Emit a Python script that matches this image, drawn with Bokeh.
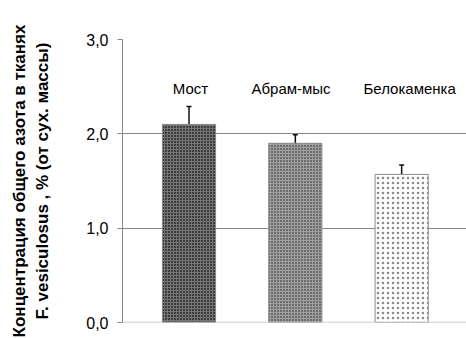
from bokeh.plotting import figure
from bokeh.models import Range1d, Whisker, TeeHead, ColumnDataSource, FixedTicker, Span
from bokeh.core.properties import value
from bokeh.embed import file_html
from bokeh.resources import INLINE

# ---- data ----
categories = ["Мост", "Абрам-мыс", "Белокаменка"]
values = [2.10, 1.90, 1.57]
errors = [0.19, 0.09, 0.10]
y_ticks = [0, 1, 2, 3]
y_tick_labels = ["0,0", "1,0", "2,0", "3,0"]
y_title = "Концентрация общего азота в тканях\nF. vesiculosus , % (от сух. массы)"

# ---- styles ----
fill_colors = ["#3c3c3c", "#a0a0a0", "#ffffff"]
hatch_patterns = ["cross", "dot", "dot"]
hatch_colors = ["#767676", "#1e1e1e", "#8a8a8a"]
hatch_scales = [3, 3, 5]
label_dx = [1.5, -4.3, 8]
label_y = 2.48
FONT = "Liberation Sans"

xs = list(range(len(categories)))
src = ColumnDataSource(dict(
    x=xs, top=values,
    upper=[v + e for v, e in zip(values, errors)],
    lower=[v - e for v, e in zip(values, errors)],
    fill=fill_colors, hp=hatch_patterns, hc=hatch_colors, hs=hatch_scales,
    label=categories, dx=label_dx, ly=[label_y] * len(categories),
))

p = figure(width=466, height=338, output_backend="svg", toolbar_location=None,
           x_range=Range1d(-0.6256, 2.610), y_range=Range1d(0, 3),
           min_border_left=122, min_border_top=39, min_border_bottom=16,
           min_border_right=0)
p.outline_line_color = None
p.background_fill_color = "white"
p.border_fill_color = "white"

p.xaxis.visible = False
p.xgrid.visible = False
p.ygrid.ticker = FixedTicker(ticks=y_ticks[1:])
p.ygrid.grid_line_color = "#868686"
p.ygrid.grid_line_width = 1

ax = p.yaxis[0]
ax.ticker = FixedTicker(ticks=y_ticks)
ax.major_label_overrides = {t: l for t, l in zip(y_ticks, y_tick_labels)}
ax.axis_line_color = "#868686"
ax.major_tick_line_color = "#868686"
ax.major_tick_out = 5
ax.major_tick_in = 0
ax.minor_tick_line_color = None
ax.major_label_text_font = FONT
ax.major_label_text_font_size = "16px"
ax.major_label_text_color = "#000000"
ax.major_label_standoff = 9
ax.axis_label = y_title
ax.axis_label_text_font = FONT
ax.axis_label_text_font_size = "17px"
ax.axis_label_text_font_style = "bold"
ax.axis_label_text_color = "#000000"
ax.axis_label_standoff = 31

p.add_layout(Span(location=0, dimension="width", line_color="#bdbdbd", line_width=1.5))

p.vbar(x="x", top="top", width=0.5, source=src, fill_color="fill",
       hatch_pattern="hp", hatch_color="hc", hatch_scale="hs", hatch_weight=1,
       line_color="#8a8a8a", line_width=1)

p.add_layout(Whisker(base="x", upper="upper", lower="lower", source=src,
                     line_color="#111111", line_width=1.5,
                     upper_head=TeeHead(size=5, line_color="#111111", line_width=1.5),
                     lower_head=TeeHead(size=5, line_color="#111111", line_width=1.5)))

p.text(x="x", y="ly", text="label", source=src, x_offset="dx",
       text_font=value(FONT), text_font_size="15px", text_color="#000000",
       text_align="center", text_baseline="alphabetic")

open("out.html", "w").write(file_html(p, INLINE))
